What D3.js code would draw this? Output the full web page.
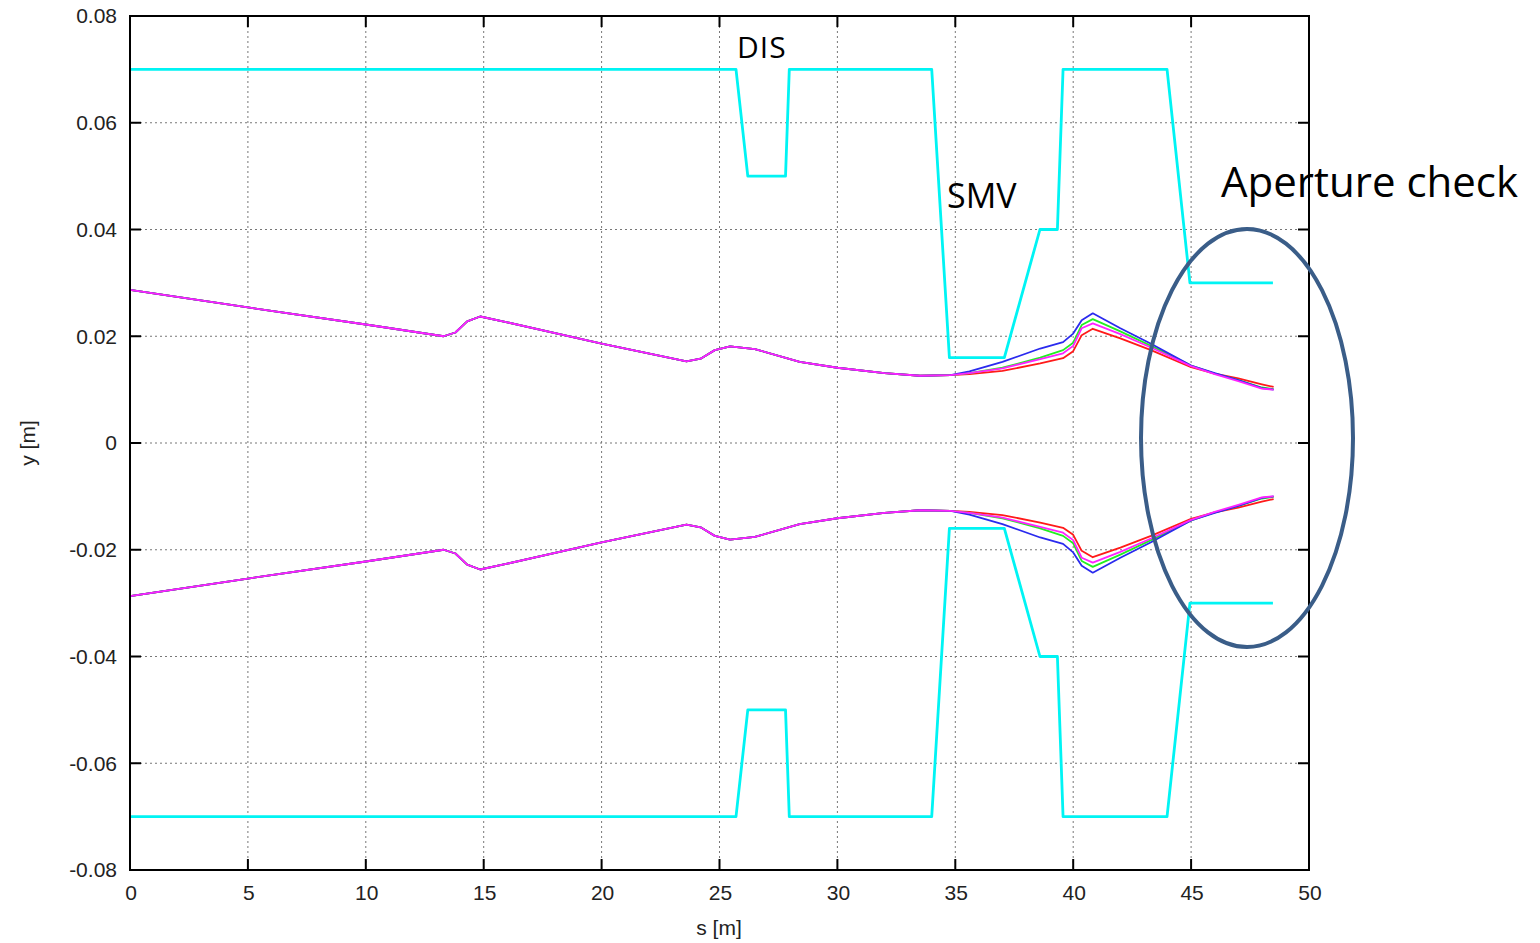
<!DOCTYPE html>
<html>
<head>
<meta charset="utf-8">
<script src="https://cdn.jsdelivr.net/npm/d3@7"></script>
<style>
  body { margin: 0; background: #fff; }
  svg { display: block; }
</style>
</head>
<body>
<svg width="1540" height="943"></svg>
<script>
// aperture limits (cyan), upper side; lower side is the mirror
const apS = [0, 25.7, 26.2, 27.8, 27.96, 34.0, 34.75, 37.08, 38.59, 39.33, 39.57, 43.98, 44.95, 48.47];
const apY = [0.07, 0.07, 0.05, 0.05, 0.07, 0.07, 0.016, 0.016, 0.04, 0.04, 0.07, 0.07, 0.03, 0.03];

// beam envelope, sampled on a shared s grid
const envS = [0, 5, 10, 13.3, 13.8, 14.3, 14.85, 16, 20, 23.6, 24.2, 24.8, 25.45, 26.5, 28.4, 30, 32, 33.5, 34.8,
              35.6, 37, 38.6, 39.57, 40.0, 40.36, 40.83, 42, 43.3, 45, 46, 47, 48.0, 48.5];
const common = [0.0287, 0.0254, 0.0222, 0.0200, 0.0207, 0.0228, 0.0237, 0.0226, 0.0186, 0.0153, 0.0158, 0.0174,
                0.0181, 0.0176, 0.0152, 0.0141, 0.0131, 0.0126, 0.0127];
const redTail     = [0.0129, 0.0135, 0.0149, 0.0159, 0.0172, 0.0202, 0.0214, 0.0196, 0.0174, 0.0142, 0.0130, 0.0121, 0.0110, 0.0105];
const greenTail   = [0.0131, 0.0141, 0.0160, 0.0174, 0.0188, 0.0221, 0.0232, 0.0209, 0.0182, 0.0145, 0.0130, 0.0118, 0.0104, 0.0101];
const blueTail    = [0.0134, 0.0152, 0.0177, 0.0189, 0.0205, 0.0230, 0.0243, 0.0215, 0.0186, 0.0145, 0.0131, 0.0118, 0.0103, 0.0100];
const magentaTail = [0.0131, 0.0140, 0.0157, 0.0168, 0.0182, 0.0215, 0.0224, 0.0204, 0.0179, 0.0144, 0.0129, 0.0116, 0.0102, 0.0100];

const envColors = ['#ff1a1a', '#22ee22', '#2a2aee', '#ff22ff'];
const envTails = [redTail, greenTail, blueTail, magentaTail];

const xTicks = [0, 5, 10, 15, 20, 25, 30, 35, 40, 45, 50];
const yTicks = [-0.08, -0.06, -0.04, -0.02, 0, 0.02, 0.04, 0.06, 0.08];

const svg = d3.select('svg');
const pLeft = 130, pRight = 1309, pTop = 16, pBottom = 870;

const x = d3.scaleLinear().domain([0, 50]).range([pLeft, pRight]);
const y = d3.scaleLinear().domain([-0.08, 0.08]).range([pBottom, pTop]);

svg.append('rect').attr('width', 1540).attr('height', 943).attr('fill', '#fff');

// grid
const grid = svg.append('g').attr('stroke', '#777').attr('stroke-width', 1).attr('stroke-dasharray', '2,3');
grid.selectAll('.gx').data(xTicks.slice(1, -1)).join('line')
  .attr('x1', d => x(d)).attr('x2', d => x(d)).attr('y1', pTop).attr('y2', pBottom);
grid.selectAll('.gy').data(yTicks.slice(1, -1)).join('line')
  .attr('y1', d => y(d)).attr('y2', d => y(d)).attr('x1', pLeft).attr('x2', pRight);

// inward ticks on all four sides
const tickLen = 11;
const ticks = svg.append('g').attr('stroke', '#000').attr('stroke-width', 2);
xTicks.forEach(d => {
  ticks.append('line').attr('x1', x(d)).attr('x2', x(d)).attr('y1', pBottom).attr('y2', pBottom - tickLen);
  ticks.append('line').attr('x1', x(d)).attr('x2', x(d)).attr('y1', pTop).attr('y2', pTop + tickLen);
});
yTicks.forEach(d => {
  ticks.append('line').attr('y1', y(d)).attr('y2', y(d)).attr('x1', pLeft).attr('x2', pLeft + tickLen);
  ticks.append('line').attr('y1', y(d)).attr('y2', y(d)).attr('x1', pRight).attr('x2', pRight - tickLen);
});

// tick labels
const labelFont = '21px "Liberation Sans", Arial, sans-serif';
const fmtY = d => d === 0 ? '0' : d.toFixed(2);
svg.append('g').selectAll('text').data(yTicks).join('text')
  .attr('x', pLeft - 13).attr('y', d => y(d)).attr('dy', '0.35em')
  .attr('text-anchor', 'end')
  .style('font', labelFont).attr('fill', '#222')
  .text(fmtY);
svg.append('g').selectAll('text').data(xTicks).join('text')
  .attr('x', d => x(d) + 1).attr('y', pBottom + 30)
  .attr('text-anchor', 'middle')
  .style('font', labelFont).attr('fill', '#222')
  .text(d => d);

svg.append('text').attr('x', 719).attr('y', 935).attr('text-anchor', 'middle')
  .style('font', labelFont).attr('fill', '#222').text('s [m]');
svg.append('text').attr('transform', 'translate(35,443) rotate(-90)').attr('text-anchor', 'middle')
  .style('font', labelFont).attr('fill', '#222').text('y [m]');

// aperture
const apLine = d3.line().x(d => x(d[0])).y(d => y(d[1]));
const apUpper = apS.map((s, i) => [s, apY[i]]);
const apLower = apS.map((s, i) => [s, -apY[i]]);
[apUpper, apLower].forEach(pts => {
  svg.append('path').attr('d', apLine(pts)).attr('fill', 'none')
    .attr('stroke', '#00f4f4').attr('stroke-width', 2.8).attr('stroke-linejoin', 'round');
});

// envelopes
envTails.forEach((tail, k) => {
  const vals = common.concat(tail);
  const up = envS.map((s, i) => [s, vals[i]]);
  const lo = envS.map((s, i) => [s, -vals[i]]);
  [up, lo].forEach(pts => {
    svg.append('path').attr('d', apLine(pts)).attr('fill', 'none')
      .attr('stroke', envColors[k]).attr('stroke-width', 1.8).attr('stroke-linejoin', 'round');
  });
});

// frame
svg.append('rect').attr('x', pLeft).attr('y', pTop).attr('width', pRight - pLeft).attr('height', pBottom - pTop)
  .attr('fill', 'none').attr('stroke', '#000').attr('stroke-width', 2);

// annotations
const note = '"Open Sans", "Noto Sans", sans-serif';
svg.append('text').attr('x', 737).attr('y', 58).style('font', `30px ${note}`).style('letter-spacing', '1px')
  .attr('fill', '#000').text('DIS');
svg.append('text').attr('x', 947).attr('y', 208).style('font', `34px ${note}`).attr('fill', '#000').text('SMV');
svg.append('text').attr('x', 1221).attr('y', 197).style('font', `42px ${note}`).attr('fill', '#000').text('Aperture check');

svg.append('ellipse').attr('cx', 1247).attr('cy', 438).attr('rx', 106).attr('ry', 209)
  .attr('fill', 'none').attr('stroke', '#3a5d88').attr('stroke-width', 4);
</script>
</body>
</html>
